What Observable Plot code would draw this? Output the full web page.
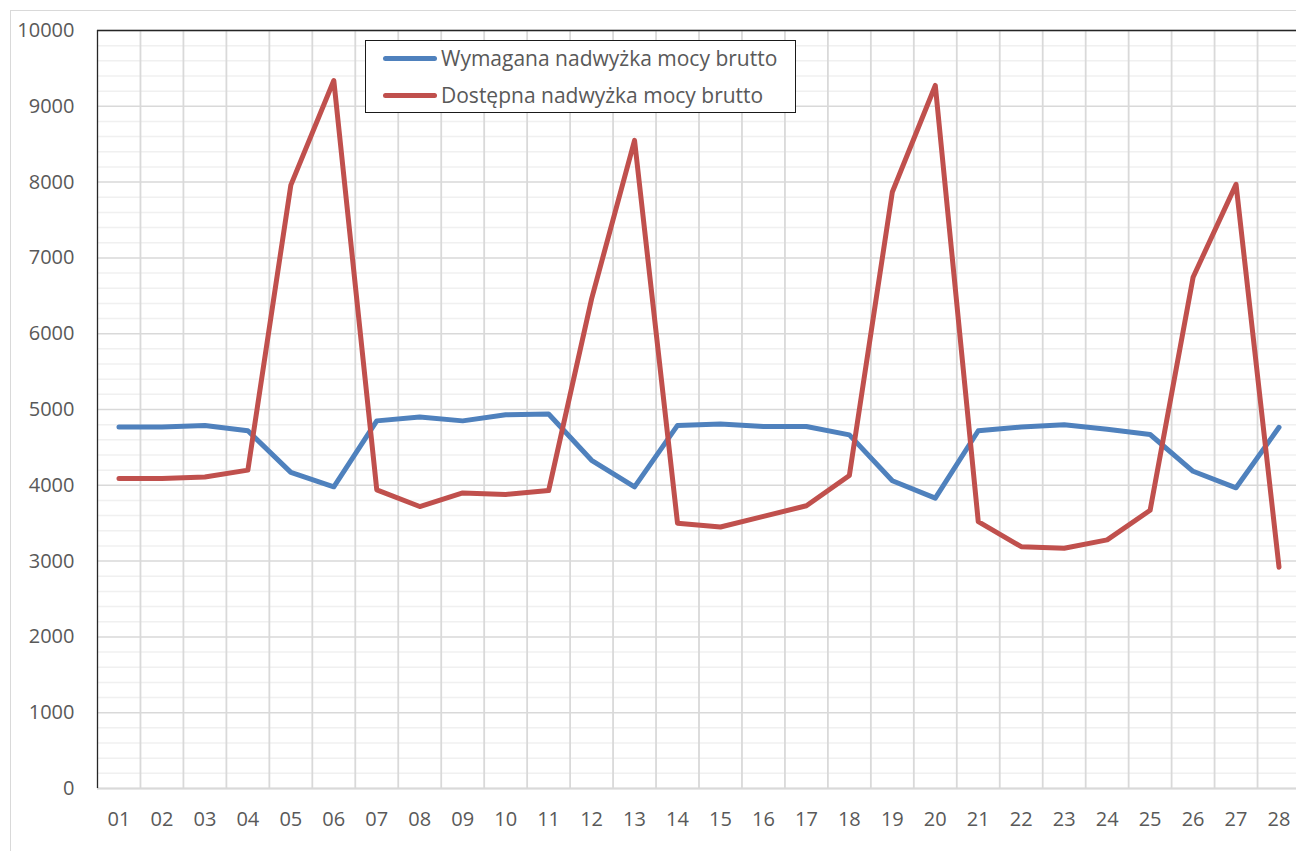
<!DOCTYPE html>
<html>
<head>
<meta charset="utf-8">
<script src="https://cdn.jsdelivr.net/npm/d3@7"></script>
<script src="https://cdn.jsdelivr.net/npm/@observablehq/plot@0.6"></script>
<style>
  html, body { margin: 0; padding: 0; background: #fff; overflow: hidden; }
  #wrap { position: relative; width: 1296px; height: 851px; font-family: "Open Sans", "Noto Sans", sans-serif; }
  #frame { position: absolute; left: 10px; top: 10px; width: 1310px; height: 900px; border: 1.5px solid #d9d9d9; box-sizing: border-box; }
  #chart { position: absolute; left: 0; top: 0; width: 1296px; }
  #legend { position: absolute; left: 365px; top: 40px; width: 431px; height: 73px; box-sizing: border-box; border: 1.3px solid #1a1a1a; background: #fff; }
  .row { position: absolute; left: 17px; height: 34px; display: flex; align-items: center; font-size: 21px; color: #595959; white-space: nowrap; }
  .sw { width: 54px; height: 5px; border-radius: 3px; margin-right: 4px; }
</style>
</head>
<body>
<div id="wrap">
  <div id="frame"></div>
  <div id="chart"></div>
  <div id="legend"></div>
</div>
<script>
const categories = ["01","02","03","04","05","06","07","08","09","10","11","12","13","14",
                    "15","16","17","18","19","20","21","22","23","24","25","26","27","28"];
const wymagana = [4770, 4770, 4790, 4720, 4170, 3980, 4850, 4900, 4850, 4930, 4940, 4330, 3980, 4790,
                  4810, 4775, 4775, 4665, 4060, 3830, 4720, 4770, 4800, 4740, 4670, 4185, 3967, 4765];
const dostepna = [4090, 4090, 4110, 4200, 7960, 9340, 3940, 3720, 3900, 3880, 3930, 6460, 8550, 3500,
                  3450, 3590, 3730, 4130, 7870, 9275, 3520, 3190, 3170, 3280, 3670, 6745, 7970, 2920];
const seriesNames = ["Wymagana nadwyżka mocy brutto", "Dostępna nadwyżka mocy brutto"];
const seriesColors = ["#4f81bd", "#c0504d"];
const yMajor = [0, 1000, 2000, 3000, 4000, 5000, 6000, 7000, 8000, 9000, 10000];
const yMinor = d3.range(200, 10000, 200).filter(v => v % 1000 !== 0);

const n = categories.length;
const idx = new Map(categories.map((c, i) => [c, i + 0.5]));
const boundaries = d3.range(0, n + 1);

const rows = [];
categories.forEach((c, i) => rows.push({cat: c, value: wymagana[i], series: seriesNames[0]}));
categories.forEach((c, i) => rows.push({cat: c, value: dostepna[i], series: seriesNames[1]}));

const chart = Plot.plot({
  width: 1296, height: 851,
  marginLeft: 97, marginRight: -4, marginTop: 30, marginBottom: 63,
  style: {background: "transparent", fontFamily: "'Open Sans', 'Noto Sans', sans-serif", fontSize: "20px", color: "#595959"},
  x: {type: "linear", domain: [0, n], axis: null},
  y: {domain: [0, 10000], ticks: yMajor, tickFormat: d3.format("d"), tickSize: 0, tickPadding: 23, label: null},
  color: {domain: seriesNames, range: seriesColors},
  marks: [
    Plot.ruleY(yMinor, {stroke: "#f0f0f0", strokeWidth: 1.5}),
    Plot.ruleY(yMajor, {stroke: "#d9d9d9", strokeWidth: 1.5}),
    Plot.ruleX(boundaries.slice(1), {stroke: "#d9d9d9", strokeWidth: 1.8}),
    Plot.ruleY([0], {stroke: "#d9d9d9", strokeWidth: 1.8}),
    Plot.ruleY([10000], {stroke: "#262626", strokeWidth: 1.3}),
    Plot.ruleX([0], {stroke: "#262626", strokeWidth: 1.3}),
    Plot.text(categories, {x: d => idx.get(d), y: () => 0, text: d => d, dy: 31, fill: "#595959", fontSize: 20}),
    Plot.line(rows, {x: d => idx.get(d.cat), y: "value", z: "series", stroke: "series", strokeWidth: 5, strokeLinejoin: "round", strokeLinecap: "round"})
  ]
});
document.getElementById("chart").appendChild(chart);

const legend = document.getElementById("legend");
seriesNames.forEach((name, i) => {
  const r = document.createElement("div");
  r.className = "row";
  r.style.top = (i * 37) + "px";
  const s = document.createElement("div");
  s.className = "sw";
  s.style.background = seriesColors[i];
  const t = document.createElement("span");
  t.textContent = name;
  r.appendChild(s); r.appendChild(t);
  legend.appendChild(r);
});
</script>
</body>
</html>
